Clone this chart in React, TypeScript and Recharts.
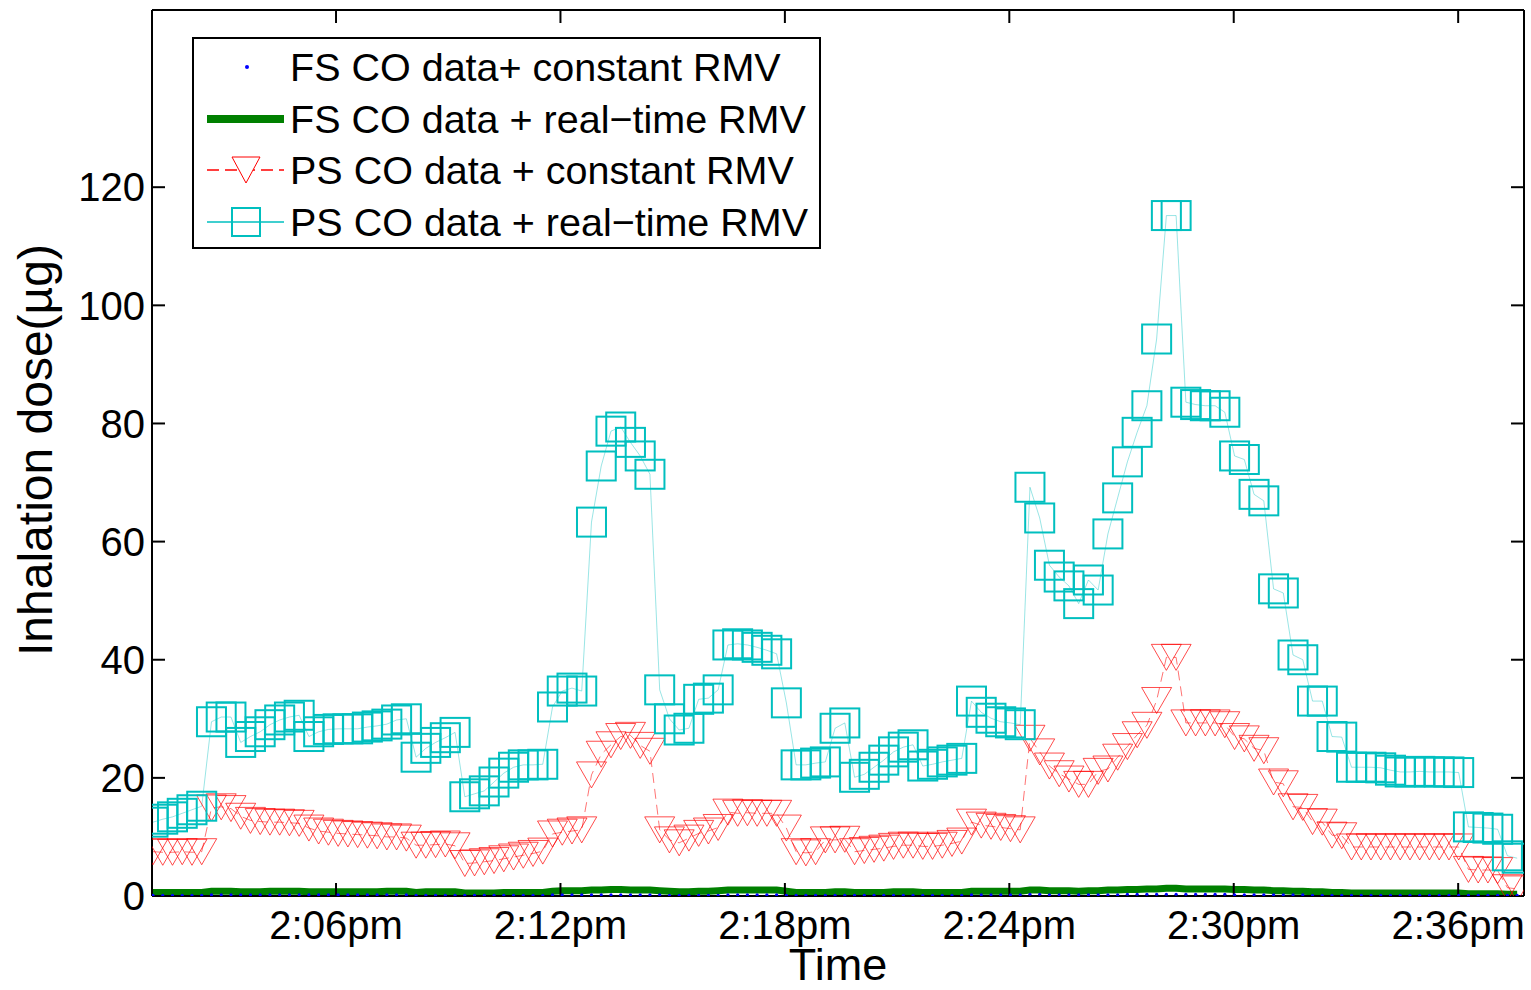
import { LineChart, Line, XAxis, YAxis } from 'recharts';

// sample times: minutes after 2:00pm, one reading about every 15.6 s
const T0 = 1.107;
const DT = 0.2605;

// PS CO data + real-time RMV (cyan squares)
const psRealTime = [
  12.5, 13, 13.4, 14, 14.6, 15.2, 29.5, 30.3, 30.3, 26,
  27, 27.8, 29, 29.8, 30.3, 30.6, 27, 27.8, 28.2, 28.3,
  28.3, 28.3, 28.6, 28.8, 29.1, 29.8, 30, 23.5, 25, 26,
  26.8, 27.7, 16.8, 17.3, 17.8, 19.3, 20.8, 21.8, 22.2, 22.2,
  22.3, 32, 34.7, 35.2, 34.7, 63.3, 72.8, 78.7, 79.4, 76.8,
  74.5, 71.4, 34.9, 30, 28.1, 28.4, 33.3, 33.5, 34.9, 42.5,
  42.7, 42.5, 42.1, 41.6, 41, 32.7, 22.2, 22.2, 22.5, 22.7,
  28.4, 29.3, 20.1, 20.6, 21.8, 23, 24.4, 25.2, 25.6, 22,
  22.3, 22.7, 23, 23.3, 33, 31.1, 30.1, 29.5, 29.3, 29,
  69.2, 64, 56, 54, 52.5, 49.5, 53.5, 51.8, 61.3, 67.4,
  73.5, 78.5, 83, 94.3, 115.2, 115.2, 83.6, 83.2, 83, 83,
  81.9, 74.5, 73.9, 68, 66.9, 52, 51.3, 40.8, 40, 33,
  33, 27, 26.9, 21.8, 21.8, 21.8, 21.7, 21.3, 21, 21,
  21.1, 21, 21, 21, 20.9, 11.7, 11.6, 11.5, 11.3, 6.8,
  6.4,
];

// PS CO data + constant RMV (red triangles)
const psConstant = [
  7.5, 7.4, 7.4, 7.5, 7.4, 7.5, 14.9, 15.1, 14.8, 13.5,
  12.8, 12.6, 12.5, 12.5, 12.4, 12.3, 11.5, 11, 10.8, 10.6,
  10.5, 10.4, 10.3, 10.2, 10, 10, 9.8, 8.6, 8.6, 8.7,
  8.8, 8.5, 5.5, 5.6, 5.8, 6, 6.3, 6.6, 6.9, 7.2,
  7.6, 10.5, 10.8, 11, 11.2, 20.5, 24, 25.6, 27, 27.2,
  25.5, 24.5, 11.2, 9.5, 9, 9.8, 10.6, 11, 11.6, 14.2,
  14, 14.1, 14, 14, 14, 11.5, 7.5, 7.3, 7.5, 9.5,
  9.5, 9.6, 7.5, 7.7, 7.9, 8.1, 8.4, 8.6, 8.6, 8.4,
  8.4, 8.6, 8.9, 9.3, 12.5, 12, 11.8, 11.6, 11.4, 11.2,
  26.7, 24.4, 22, 20.7, 19.8, 18.9, 18.9, 21.1, 21.5, 23.5,
  25.3, 27.3, 28.9, 33.1, 40.4, 40.4, 29.3, 29.3, 29.3, 29.3,
  29, 27, 26.6, 25, 24.6, 19.3, 19, 15.1, 15, 12.6,
  12.5, 10.3, 10.2, 8.3, 8.3, 8.3, 8.3, 8.3, 8.3, 8.3,
  8.3, 8.3, 8.3, 8.3, 8.3, 4.5, 4.4, 4.4, 4.3, 1.4,
  1.2,
];

// FS CO data + real-time RMV (thick green line)
const fsRealTime = [
  0.6, 0.6, 0.6, 0.6, 0.6, 0.6, 0.8, 0.8, 0.8, 0.7,
  0.7, 0.7, 0.8, 0.8, 0.8, 0.8, 0.7, 0.7, 0.7, 0.7,
  0.7, 0.7, 0.7, 0.7, 0.8, 0.8, 0.8, 0.6, 0.7, 0.7,
  0.7, 0.7, 0.5, 0.5, 0.5, 0.5, 0.6, 0.6, 0.6, 0.6,
  0.6, 0.8, 0.9, 0.9, 0.9, 1.0, 1.0, 1.1, 1.1, 1.0,
  1.0, 1.0, 0.9, 0.8, 0.7, 0.7, 0.8, 0.8, 0.9, 1.0,
  1.0, 1.0, 1.0, 1.0, 1.0, 0.8, 0.6, 0.6, 0.6, 0.6,
  0.7, 0.7, 0.6, 0.6, 0.6, 0.6, 0.7, 0.7, 0.7, 0.6,
  0.6, 0.6, 0.6, 0.6, 0.8, 0.8, 0.8, 0.8, 0.8, 0.8,
  1.0, 1.0, 0.9, 0.9, 0.9, 0.8, 0.9, 0.9, 1.0, 1.0,
  1.1, 1.1, 1.2, 1.2, 1.3, 1.3, 1.2, 1.2, 1.2, 1.2,
  1.2, 1.1, 1.1, 1.0, 1.0, 0.9, 0.9, 0.8, 0.8, 0.7,
  0.7, 0.6, 0.6, 0.5, 0.5, 0.5, 0.5, 0.5, 0.5, 0.5,
  0.5, 0.5, 0.5, 0.5, 0.5, 0.4, 0.4, 0.4, 0.4, 0.3,
  0.3,
];

// FS CO data + constant RMV (blue points)
const fsConstant = [
  0.1, 0.1, 0.1, 0.1, 0.1, 0.1, 0.2, 0.2, 0.2, 0.2,
  0.2, 0.2, 0.2, 0.2, 0.2, 0.2, 0.2, 0.2, 0.2, 0.2,
  0.2, 0.2, 0.2, 0.2, 0.2, 0.2, 0.2, 0.1, 0.1, 0.1,
  0.1, 0.1, 0.1, 0.1, 0.1, 0.1, 0.1, 0.1, 0.1, 0.1,
  0.1, 0.2, 0.2, 0.2, 0.2, 0.2, 0.2, 0.2, 0.2, 0.2,
  0.2, 0.2, 0.2, 0.1, 0.1, 0.1, 0.1, 0.1, 0.1, 0.2,
  0.2, 0.2, 0.2, 0.2, 0.2, 0.1, 0.1, 0.1, 0.1, 0.1,
  0.1, 0.1, 0.1, 0.1, 0.1, 0.1, 0.1, 0.1, 0.1, 0.1,
  0.1, 0.1, 0.1, 0.1, 0.2, 0.2, 0.2, 0.2, 0.2, 0.2,
  0.3, 0.3, 0.2, 0.2, 0.2, 0.2, 0.2, 0.2, 0.2, 0.2,
  0.3, 0.3, 0.3, 0.3, 0.3, 0.3, 0.3, 0.3, 0.3, 0.3,
  0.3, 0.2, 0.2, 0.2, 0.2, 0.2, 0.2, 0.2, 0.2, 0.1,
  0.1, 0.1, 0.1, 0.1, 0.1, 0.1, 0.1, 0.1, 0.1, 0.1,
  0.1, 0.1, 0.1, 0.1, 0.1, 0.1, 0.1, 0.1, 0.1, 0.1,
  0.1,
];

const timeTicks = [6, 12, 18, 24, 30, 36];
const doseTicks = [0, 20, 40, 60, 80, 100, 120];
const legendLabels = [
  'FS CO data+ constant RMV',
  'FS CO data + real\u2212time RMV',
  'PS CO data + constant RMV',
  'PS CO data + real\u2212time RMV',
];

const BLUE = '#0000ff';
const GREEN = '#008000';
const RED = '#ff0000';
const CYAN = '#00bfbf';
const FONT = '"Liberation Sans", Arial, Helvetica, sans-serif';

const data = psRealTime.map((v, i) => ({
  t: T0 + DT * i,
  fsConst: fsConstant[i],
  fsReal: fsRealTime[i],
  psConst: psConstant[i],
  psReal: v,
}));

const fmtTime = (v: number) => `2:${String(v).padStart(2, '0')}pm`;

const SquareDot = (p: any) => {
  const { cx, cy, index } = p;
  if (cx == null || cy == null) return <g key={`sq-${index}`} />;
  return (
    <rect key={`sq-${index}`} x={cx - 14.5} y={cy - 14.5} width={29} height={29}
      fill="none" stroke={CYAN} strokeWidth={2} />
  );
};

const TriDot = (p: any) => {
  const { cx, cy, index } = p;
  if (cx == null || cy == null) return <g key={`tr-${index}`} />;
  return (
    <path key={`tr-${index}`} d={`M${cx - 15},${cy - 13}L${cx + 15},${cy - 13}L${cx},${cy + 13}Z`}
      fill="none" stroke={RED} strokeOpacity={0.7} strokeWidth={1} />
  );
};

const PointDot = (p: any) => {
  const { cx, cy, index } = p;
  if (cx == null || cy == null) return <g key={`pt-${index}`} />;
  return <circle key={`pt-${index}`} cx={cx} cy={cy} r={1.6} fill={BLUE} />;
};

const noLabel = () => <g />;

const axisStroke = { stroke: '#000', strokeWidth: 2 };

function LegendBox() {
  const rowTop = [3, 55, 106, 158];
  const sample = (i: number) => {
    if (i === 0) return <circle cx={53} cy={25} r={2} fill={BLUE} />;
    if (i === 1) return <line x1={13} y1={25} x2={90} y2={25} stroke={GREEN} strokeWidth={8} />;
    if (i === 2)
      return (
        <g>
          <line x1={13} y1={25} x2={90} y2={25} stroke={RED} strokeWidth={1.5} strokeDasharray="12 6" />
          <path d="M38,12L66,12L52,38Z" fill="#fff" stroke={RED} strokeWidth={1} />
        </g>
      );
    return (
      <g>
        <line x1={13} y1={25} x2={90} y2={25} stroke={CYAN} strokeWidth={1.5} />
        <rect x={38} y={11} width={28} height={28} fill="none" stroke={CYAN} strokeWidth={2} />
      </g>
    );
  };
  return (
    <div
      style={{
        position: 'absolute',
        left: 192,
        top: 37,
        width: 629,
        height: 212,
        boxSizing: 'border-box',
        border: '2px solid #000',
        background: '#fff',
        fontFamily: FONT,
        fontSize: 39.5,
        color: '#000',
      }}
    >
      {legendLabels.map((label, i) => (
        <div key={label} style={{ position: 'absolute', left: 0, top: rowTop[i], height: 50, width: '100%' }}>
          <svg width={100} height={50} style={{ position: 'absolute', left: 0, top: 0 }}>
            {sample(i)}
          </svg>
          <div style={{ position: 'absolute', left: 96, top: 0, lineHeight: '50px', whiteSpace: 'nowrap' }}>
            {label}
          </div>
        </div>
      ))}
    </div>
  );
}

export default function App() {
  return (
    <div style={{ position: 'absolute', left: 0, top: 0, width: 1531, height: 990, background: '#fff' }}>
      <LineChart width={1531} height={990} data={data} margin={{ top: 9, right: 6, bottom: 0, left: 0 }}>
        <XAxis
          dataKey="t"
          type="number"
          domain={[1.08, 37.76]}
          ticks={timeTicks}
          tickFormatter={fmtTime}
          height={94}
          tickSize={-13}
          tickMargin={28}
          axisLine={axisStroke}
          tickLine={axisStroke}
          tick={{ fontSize: 40, fill: '#000', fontFamily: FONT }}
          allowDataOverflow
        />
        <XAxis
          xAxisId="top"
          dataKey="t"
          orientation="top"
          type="number"
          domain={[1.08, 37.76]}
          ticks={timeTicks}
          height={1}
          tickSize={-13}
          axisLine={axisStroke}
          tickLine={axisStroke}
          tick={noLabel}
          allowDataOverflow
        />
        <YAxis
          type="number"
          domain={[0, 150]}
          ticks={doseTicks}
          width={152}
          tickSize={-13}
          tickMargin={20}
          axisLine={axisStroke}
          tickLine={axisStroke}
          tick={{ fontSize: 40, fill: '#000', fontFamily: FONT }}
          allowDataOverflow
        />
        <YAxis
          yAxisId="right"
          orientation="right"
          type="number"
          domain={[0, 150]}
          ticks={doseTicks}
          width={1}
          tickSize={-13}
          axisLine={axisStroke}
          tickLine={axisStroke}
          tick={noLabel}
          allowDataOverflow
        />
        {/* invisible series so the top/right box axes get drawn */}
        <Line xAxisId="top" yAxisId="right" dataKey="fsConst" stroke="none" dot={false} activeDot={false} isAnimationActive={false} />
        <Line dataKey="fsConst" stroke="none" dot={PointDot} activeDot={false} isAnimationActive={false} />
        <Line dataKey="fsReal" type="linear" stroke={GREEN} strokeWidth={7} dot={false} activeDot={false} isAnimationActive={false} />
        <Line dataKey="psConst" type="linear" stroke={RED} strokeOpacity={0.55} strokeWidth={1} strokeDasharray="10 6" dot={TriDot} activeDot={false} isAnimationActive={false} />
        <Line dataKey="psReal" type="linear" stroke={CYAN} strokeOpacity={0.4} strokeWidth={1} dot={SquareDot} activeDot={false} isAnimationActive={false} />
      </LineChart>

      <LegendBox />

      <div
        style={{
          position: 'absolute',
          left: 36 - 250,
          top: 450 - 24,
          width: 500,
          height: 48,
          lineHeight: '48px',
          textAlign: 'center',
          transform: 'rotate(-90deg)',
          fontFamily: FONT,
          fontSize: 48,
          color: '#000',
          whiteSpace: 'nowrap',
        }}
      >
        Inhalation dose(µg)
      </div>
      <div
        style={{
          position: 'absolute',
          left: 838 - 100,
          top: 946,
          width: 200,
          lineHeight: '37px',
          textAlign: 'center',
          fontFamily: FONT,
          fontSize: 45,
          color: '#000',
        }}
      >
        Time
      </div>
    </div>
  );
}
